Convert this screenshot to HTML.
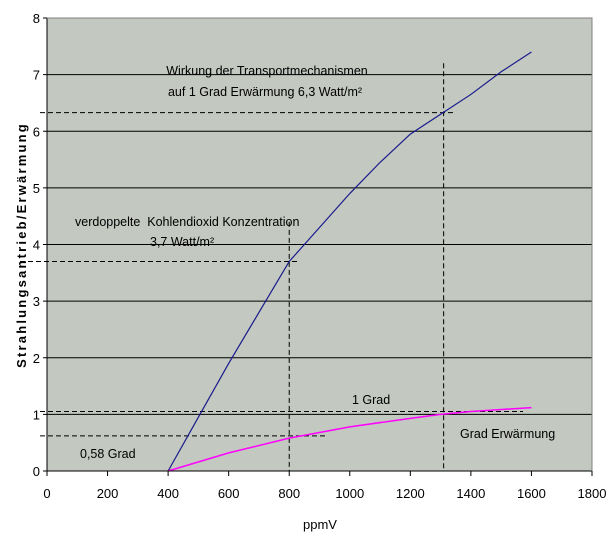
<!DOCTYPE html>
<html><head><meta charset="utf-8"><style>
body{margin:0;background:#fff;}
svg text{font-family:"Liberation Sans",sans-serif;fill:#000;}
</style></head><body>
<svg id="c" width="612" height="544" xmlns="http://www.w3.org/2000/svg">
<rect x="47" y="18" width="545" height="453" fill="#c3c8c0"/>
<g id="grid"></g><g id="ann"></g><g id="series"></g><g id="axes"></g>
<text x="320" y="529" font-size="13" text-anchor="middle">ppmV</text>
<text transform="translate(26,245) rotate(-90)" font-size="13" font-weight="bold" letter-spacing="2.2" text-anchor="middle">Strahlungsantrieb/Erwärmung</text>
<g font-size="12.5">
<text x="267" y="75" text-anchor="middle">Wirkung der Transportmechanismen</text>
<text x="265" y="96" text-anchor="middle">auf 1 Grad Erwärmung 6,3 Watt/m²</text>
<text x="75" y="226" xml:space="preserve">verdoppelte  Kohlendioxid Konzentration</text>
<text x="150" y="246">3,7 Watt/m²</text>
<text x="352" y="404">1 Grad</text>
<text x="460" y="438">Grad Erwärmung</text>
<text x="80" y="458">0,58 Grad</text>
</g>
</svg>
<script>
const ppm=[400,500,600,700,800,900,1000,1100,1200,1300,1400,1500,1600];
const forcing=[0,0.95,1.9,2.8,3.7,4.3,4.9,5.45,5.95,6.3,6.65,7.05,7.4];
const warmPpm=[400,600,800,1000,1200,1300,1400,1600];
const warming=[0,0.32,0.58,0.78,0.93,1.0,1.05,1.12];
const xTicks=[0,200,400,600,800,1000,1200,1400,1600,1800];
const yTicks=[0,1,2,3,4,5,6,7,8];
const X=v=>47+v*545/1800, Y=v=>471-v*453/8;
const NS="http://www.w3.org/2000/svg";
function mk(p,t,a){const e=document.createElementNS(NS,t);for(const k in a)e.setAttribute(k,a[k]);document.getElementById(p).appendChild(e);return e;}
yTicks.forEach(t=>{
 if(t>0&&t<8){const l=mk('grid','line',{x1:47,x2:592,y1:Y(t),y2:Y(t),stroke:'#000','stroke-width':1});
 
 }
 const tx=mk('axes','text',{x:40,y:Y(t)+5,'font-size':13,'text-anchor':'end'});tx.textContent=t;
 
 
 mk('axes','line',{x1:43,x2:47,y1:Y(t),y2:Y(t),stroke:'#000'});
});
xTicks.forEach(t=>{
 mk('axes','line',{x1:X(t),x2:X(t),y1:471,y2:476,stroke:'#000'});
 const tx=mk('axes','text',{x:X(t),y:498,'font-size':13,'text-anchor':'middle'});tx.textContent=t;
 
 
});
const ax=mk('axes','path',{d:'M47 18V471H592',fill:'none',stroke:'#000'});


const rt=mk('axes','path',{d:'M47 18H592V471',fill:'none',stroke:'#808080'});


// dashed annotation lines
[[40,Y(6.33),455,Y(6.33)],[X(1310),Y(7.2),X(1310),471],[20,Y(3.7),300,Y(3.7)],[X(800),Y(4.4),X(800),471],[40,Y(1.05),523,Y(1.05)],[40,Y(0.62),325,Y(0.62)]].forEach((d,i)=>{
 const l=mk('ann','line',{x1:d[0],y1:d[1],x2:d[2],y2:d[3],stroke:'#000','stroke-dasharray':'5,3','stroke-width':1});
 
 
});
const b=mk('series','polyline',{points:ppm.map((v,i)=>X(v)+','+Y(forcing[i])).join(' '),fill:'none',stroke:'#1a1a8c','stroke-width':1.2});


const m=mk('series','polyline',{points:warmPpm.map((v,i)=>X(v)+','+Y(warming[i])).join(' '),fill:'none',stroke:'#ff00ff','stroke-width':1.5});


</script>
</body></html>
